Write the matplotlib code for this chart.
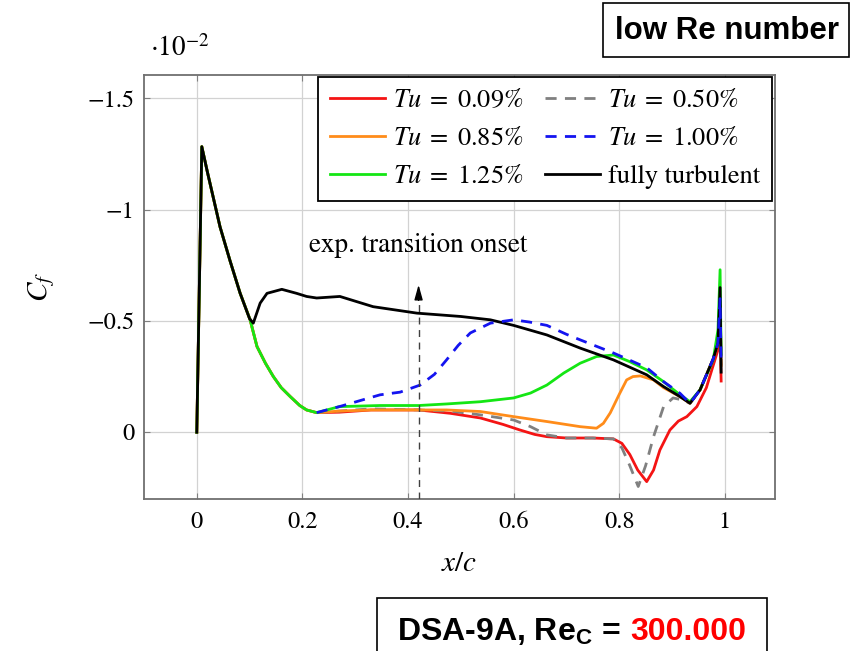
import matplotlib
matplotlib.use("Agg")
import matplotlib.pyplot as plt
from matplotlib.patches import Rectangle
from matplotlib.ticker import FixedLocator, FuncFormatter

plt.rcParams['font.family'] = 'STIXGeneral'
plt.rcParams['mathtext.fontset'] = 'stix'

# skin friction coefficient Cf (x 1e-2) along the chord, DSA-9A, Re = 300.000
# leading edge part, same for all transitional runs
x_le = [0.0, 0.0095, 0.02, 0.044, 0.063, 0.082, 0.101, 0.114, 0.13, 0.145, 0.16, 0.177, 0.195, 0.208, 0.227]
cf_le = [0.0, -1.283, -1.17, -0.923, -0.77, -0.625, -0.505, -0.385, -0.31, -0.25, -0.2, -0.16, -0.12, -0.10, -0.088]

x_tu009 = [0.27, 0.33, 0.42, 0.48, 0.537, 0.58, 0.612, 0.64, 0.663, 0.7, 0.75, 0.789, 0.805, 0.82, 0.835,
           0.852, 0.865, 0.877, 0.896, 0.912, 0.928, 0.947, 0.965, 0.987, 0.991, 0.993]
cf_tu009 = [-0.09, -0.10, -0.10, -0.085, -0.064, -0.035, -0.01, 0.01, 0.02, 0.026, 0.026, 0.03, 0.05, 0.10, 0.17,
            0.222, 0.17, 0.08, -0.01, -0.05, -0.07, -0.115, -0.2, -0.37, -0.42, -0.23]

x_tu050 = [0.27, 0.33, 0.42, 0.48, 0.537, 0.6, 0.632, 0.663, 0.7, 0.75, 0.789, 0.805, 0.82, 0.836,
           0.85, 0.865, 0.884, 0.902, 0.92, 0.934, 0.953, 0.978, 0.987, 0.991, 0.993]
cf_tu050 = [-0.095, -0.105, -0.10, -0.095, -0.078, -0.055, -0.025, 0.012, 0.026, 0.026, 0.03, 0.07, 0.15, 0.244,
            0.15, 0.02, -0.115, -0.154, -0.145, -0.13, -0.19, -0.33, -0.40, -0.60, -0.30]

x_tu085 = [0.27, 0.33, 0.42, 0.473, 0.537, 0.6, 0.663, 0.726, 0.757, 0.77, 0.783, 0.8, 0.814, 0.826,
           0.84, 0.865, 0.884, 0.915, 0.934, 0.953, 0.978, 0.987, 0.991, 0.993]
cf_tu085 = [-0.095, -0.10, -0.10, -0.10, -0.093, -0.07, -0.048, -0.025, -0.018, -0.04, -0.087, -0.17, -0.235, -0.25,
            -0.253, -0.235, -0.2, -0.16, -0.13, -0.19, -0.33, -0.40, -0.60, -0.30]

x_tu100 = [0.27, 0.347, 0.385, 0.423, 0.45, 0.473, 0.495, 0.518, 0.556, 0.6, 0.63, 0.663, 0.7, 0.726,
           0.789, 0.852, 0.884, 0.915, 0.934, 0.953, 0.978, 0.987, 0.991, 0.993]
cf_tu100 = [-0.115, -0.168, -0.18, -0.212, -0.26, -0.325, -0.39, -0.446, -0.49, -0.505, -0.495, -0.48, -0.44, -0.415,
            -0.356, -0.29, -0.227, -0.175, -0.13, -0.19, -0.33, -0.40, -0.60, -0.30]

x_tu125 = [0.27, 0.347, 0.42, 0.473, 0.537, 0.6, 0.632, 0.663, 0.695, 0.726, 0.757, 0.789, 0.82, 0.852,
           0.884, 0.915, 0.934, 0.953, 0.978, 0.987, 0.991, 0.993]
cf_tu125 = [-0.115, -0.12, -0.12, -0.127, -0.137, -0.154, -0.176, -0.212, -0.266, -0.31, -0.34, -0.347, -0.317, -0.28,
            -0.227, -0.168, -0.137, -0.19, -0.325, -0.46, -0.73, -0.35]

x_turb = [0.0, 0.0095, 0.02, 0.044, 0.063, 0.082, 0.1, 0.107, 0.12, 0.133, 0.161, 0.189, 0.208, 0.227, 0.271,
          0.334, 0.417, 0.5, 0.556, 0.6, 0.663, 0.726, 0.789, 0.852, 0.884, 0.915, 0.934, 0.953, 0.978,
          0.987, 0.991, 0.993]
cf_turb = [0.0, -1.283, -1.17, -0.923, -0.77, -0.625, -0.51, -0.49, -0.58, -0.624, -0.642, -0.624, -0.61, -0.603,
           -0.61, -0.564, -0.535, -0.52, -0.505, -0.48, -0.437, -0.378, -0.325, -0.258, -0.205, -0.16, -0.13,
           -0.19, -0.33, -0.40, -0.65, -0.27]

x_onset = 0.42

fig = plt.figure(figsize=(8.54, 6.51), dpi=100)
ax = fig.add_axes([0.1686, 0.2335, 0.7389, 0.6513])

# dashed runs drawn from the end of the shared leading edge part only
ax.plot(x_le + x_tu009, cf_le + cf_tu009, color='#f41414', lw=2.0, zorder=3, label=r'$Tu\;=\;0.09\%$')
ax.plot(x_le + x_tu085, cf_le + cf_tu085, color='#ff8c1a', lw=2.0, zorder=5, label=r'$Tu\;=\;0.85\%$')
ax.plot(x_le + x_tu125, cf_le + cf_tu125, color='#14e614', lw=2.0, zorder=6, label=r'$Tu\;=\;1.25\%$')
ax.plot(x_le[-1:] + x_tu050, cf_le[-1:] + cf_tu050, color='#808080', lw=2.0, ls=(0, (4, 3)), zorder=4,
        label=r'$Tu\;=\;0.50\%$')
ax.plot(x_le[-1:] + x_tu100, cf_le[-1:] + cf_tu100, color='#1414f0', lw=2.0, ls=(0, (4, 3)), zorder=8,
        label=r'$Tu\;=\;1.00\%$')
ax.plot(x_turb, cf_turb, color='black', lw=2.0, zorder=7, label='fully turbulent')

# transition onset from experiment
ax.plot([x_onset, x_onset], [0.3, -0.6], color='#404040', lw=1.0, ls=(0, (5, 4)), zorder=9)
ax.annotate('', xy=(x_onset, -0.675), xytext=(x_onset, -0.58),
            arrowprops=dict(arrowstyle='-|>,head_length=0.9,head_width=0.25', color='black', lw=1.0), zorder=9)
ax.text(x_onset, -0.84, 'exp. transition onset', ha='center', va='center', fontsize=19.5)

ax.set_xlim(-0.1, 1.095)
ax.set_ylim(0.3, -1.605)
fmt = FuncFormatter(lambda v, p: f"{v:g}".replace('-', '\u2212'))
ax.xaxis.set_major_locator(FixedLocator([0, 0.2, 0.4, 0.6, 0.8, 1.0]))
ax.yaxis.set_major_locator(FixedLocator([-1.5, -1.0, -0.5, 0.0]))
ax.xaxis.set_major_formatter(fmt)
ax.yaxis.set_major_formatter(fmt)
ax.tick_params(direction='in', length=4, color='#808080', labelsize=17.5, top=True, right=True)
ax.tick_params(axis='x', pad=9)
ax.tick_params(axis='y', pad=7)
ax.grid(True, color='#d2d2d2', lw=0.9)
for s in ax.spines.values():
    s.set_color('#707070')
    s.set_linewidth(1.3)

ax.set_xlabel(r'$x/c$', fontsize=21, labelpad=14)
ax.set_ylabel(r'$C_f$', fontsize=21, labelpad=22)
ax.text(0.01, 1.03, r'$\cdot 10^{-2}$', transform=ax.transAxes, fontsize=19.5, ha='left', va='bottom')

leg = ax.legend(loc='upper right', ncol=2, bbox_to_anchor=(0.995, 0.995), fontsize=19,
                frameon=True, fancybox=False, framealpha=1, edgecolor='black', borderaxespad=0,
                handlelength=2.1, columnspacing=0.8, handletextpad=0.3, labelspacing=0.5, borderpad=0.45)
leg.get_frame().set_linewidth(1.3)
leg.set_zorder(10)

# boxed labels
fig.patches.append(Rectangle((603 / 854, 1 - 57 / 651), 246 / 854, 54 / 651, transform=fig.transFigure,
                             fill=False, edgecolor='black', lw=1.2))
fig.text(727 / 854, 1 - 31 / 651, 'low Re number', ha='center', va='center', fontsize=22.5,
         fontweight='bold', family='Liberation Sans')

fig.patches.append(Rectangle((377 / 854, -0.02), 390 / 854, 0.02 + 1 - 598 / 651, transform=fig.transFigure,
                             fill=False, edgecolor='black', lw=1.2))
fig.text(621 / 854, 1 - 640 / 651, r'DSA-9A, Re$_\mathregular{C}$ =', ha='right', va='baseline', fontsize=23,
         fontweight='bold', family='Liberation Sans')
fig.text(630 / 854, 1 - 640 / 651, '300.000', ha='left', va='baseline', fontsize=23,
         fontweight='bold', family='Liberation Sans', color='#ff0000')

fig.savefig('out.png', dpi=100)
